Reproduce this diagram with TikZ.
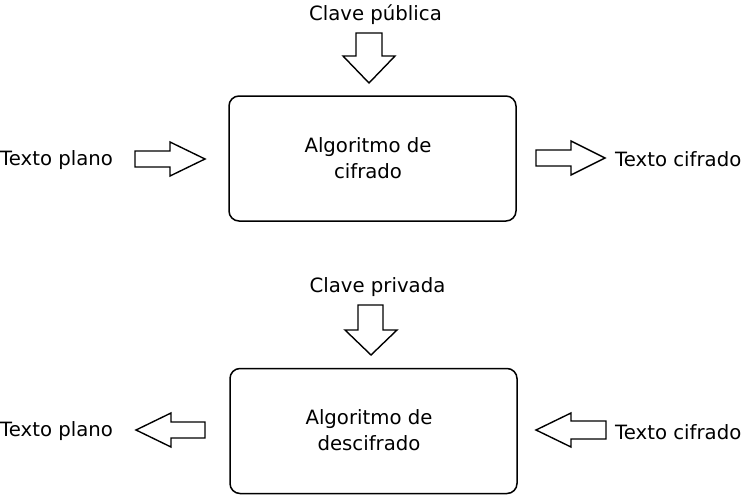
\documentclass[tikz,border=0pt]{standalone}
\usepackage{fontspec}
\setmainfont{DejaVu Sans}
\begin{document}
\begin{tikzpicture}[x=1pt,y=-1pt,
  lbl/.style={inner sep=0pt,font=\fontsize{19.7}{26}\selectfont},
  algbox/.style={draw,line width=1.5pt,rounded corners=10pt,minimum width=287pt,minimum height=125pt,inner sep=0pt},
  blockarr/.style={draw,line width=1.4pt,fill=white,line join=miter}]
\useasboundingbox (0,0) rectangle (746,495);
% boxes
\node[algbox] (enc) at (372.5,158.5) {};
\node[algbox] (dec) at (373.5,431) {};
\node[lbl,align=center] (enctxt) at (368,158.2) {Algoritmo de\\cifrado};
\node[lbl,align=center] (dectxt) at (369,430.2) {Algoritmo de\\descifrado};
% labels
\node[lbl,anchor=base] (pub) at (375.5,21) {Clave pública};
\node[lbl,anchor=base] (priv) at (377.5,292) {Clave privada};
\node[lbl,anchor=base west] (p1) at (0,165) {Texto plano};
\node[lbl,anchor=base west] (c1) at (615,166) {Texto cifrado};
\node[lbl,anchor=base west] (p2) at (0,436) {Texto plano};
\node[lbl,anchor=base west] (c2) at (615,439) {Texto cifrado};
% block arrows
\draw[blockarr] (135,151) -- (170,151) -- (170,142) -- (205,159) -- (170,176) -- (170,167) -- (135,167) -- cycle;
\draw[blockarr] (536,150) -- (571,150) -- (571,141) -- (605,158) -- (571,175) -- (571,166) -- (536,166) -- cycle;
\draw[blockarr] (205,422) -- (171,422) -- (171,413) -- (136,430) -- (171,447) -- (171,438) -- (205,438) -- cycle;
\draw[blockarr] (606,421) -- (571,421) -- (571,413) -- (536,430) -- (571,447) -- (571,439) -- (606,439) -- cycle;
\draw[blockarr] (356,33) -- (382,33) -- (382,56) -- (395,56) -- (369,83) -- (343,56) -- (356,56) -- cycle;
\draw[blockarr] (358,305) -- (383,305) -- (383,330) -- (397,330) -- (371,355) -- (345,330) -- (358,330) -- cycle;
\end{tikzpicture}
\end{document}
